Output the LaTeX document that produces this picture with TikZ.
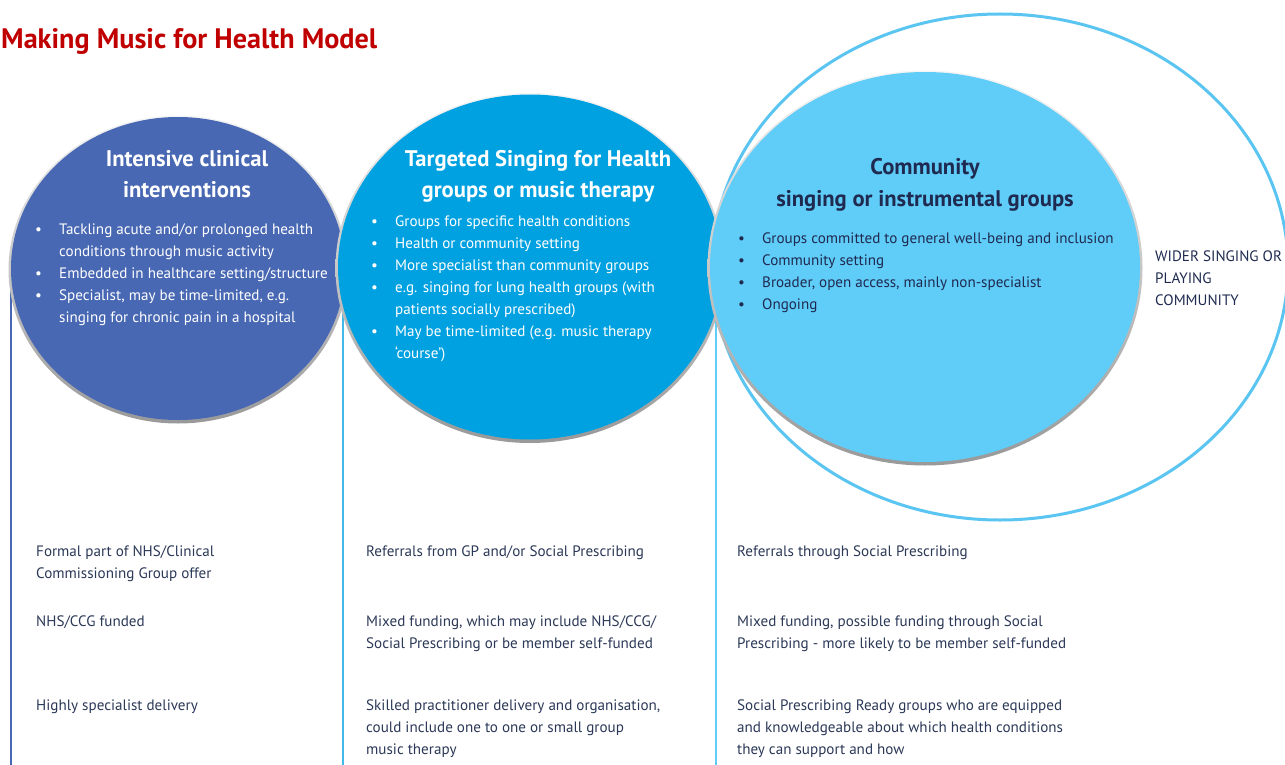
\documentclass[tikz,border=0pt]{standalone}
\usepackage{fontspec}
\setmainfont{PT Sans}
\usetikzlibrary{calc}
\definecolor{cone}{HTML}{4868B3}
\definecolor{ctwo}{HTML}{00A1E0}
\definecolor{cthree}{HTML}{60CCF8}
\definecolor{couter}{HTML}{5BC5F2}
\definecolor{navy}{HTML}{1F2A50}
\definecolor{bodytxt}{HTML}{2B3857}
\definecolor{titlered}{HTML}{C00000}
\newcommand{\mlines}[1]{\begin{tabular}[t]{@{}l@{}}#1\end{tabular}}
\newcommand{\clines}[1]{\begin{tabular}[t]{@{}c@{}}#1\end{tabular}}
\newcommand{\blist}[1]{\begin{tabular}[t]{@{}p{24pt}@{}l@{}}#1\end{tabular}}
\tikzset{
  rim/.style={top color=gray!8, bottom color=gray!80, draw=none},
  colline/.style={line width=2.8pt},
  bodytext/.style={font=\fontsize{15.1}{22}\selectfont, text=bodytxt, anchor=base west, inner sep=0pt},
  bullettext/.style={font=\fontsize{15.1}{22}\selectfont, anchor=base west, inner sep=0pt},
  ctitle/.style={font=\bfseries\fontsize{22.6}{32}\selectfont, anchor=base, inner sep=0pt},
}
\begin{document}
\begin{tikzpicture}[x=1pt,y=-1pt]
\useasboundingbox (0,0) rectangle (1285,765);
% anchor coordinates
\coordinate (c1) at (178,268.5);
\coordinate (c2) at (530,267);
\coordinate (c3) at (925,267);
\coordinate (co) at (1000,267);
\coordinate (l1top) at (11,268);
\coordinate (l1bot) at (11,765);
\coordinate (l2top) at (343,268);
\coordinate (l2bot) at (343,765);
\coordinate (l3top) at (716,268);
\coordinate (l3bot) at (716,765);
% column lines
\draw[colline, cone] (l1top) -- (l1bot);
\draw[colline, ctwo!75] (l2top) -- (l2bot);
\draw[colline, cthree] (l3top) -- (l3bot);
% outer community ellipse
\draw[couter, line width=3pt] (co) ellipse (288 and 253);
% circles with bevel rim
\shade[rim] ($(c1)+(0,1)$) ellipse (169.5 and 154);
\fill[cone] (c1) ellipse (167 and 151.5);
\shade[rim] ($(c2)+(0,1)$) ellipse (194.5 and 175);
\fill[ctwo] (c2) ellipse (192 and 172.5);
\shade[rim] ($(c3)+(0,1)$) ellipse (217.5 and 197.5);
\fill[cthree] (c3) ellipse (215 and 195);
% main title
\node[font=\bfseries\fontsize{28.2}{32}\selectfont, text=titlered, anchor=base west, inner sep=0pt] (title) at (1,49) {Making Music for Health Model};
% circle titles
\node[ctitle, text=white] (t1) at (187,166) {\clines{Intensive clinical\\interventions}};
\node[ctitle, text=white] (t2) at (538,166) {\clines{Targeted Singing for Health\\groups or music therapy}};
\node[ctitle, text=navy] (t3) at (925,175) {\clines{Community\\singing or instrumental groups}};
% bullets
\node[bullettext, text=white] (b1) at (35,234) {\blist{\textbullet & Tackling acute and/or prolonged health\\ & conditions through music activity\\ \textbullet & Embedded in healthcare setting/structure\\ \textbullet & Specialist, may be time-limited, e.g.\\ & singing for chronic pain in a hospital}};
\node[bullettext, text=white] (b2) at (371,226) {\blist{\textbullet & Groups for specific health conditions\\ \textbullet & Health or community setting\\ \textbullet & More specialist than community groups\\ \textbullet & e.g. singing for lung health groups (with\\ & patients socially prescribed)\\ \textbullet & May be time-limited (e.g. music therapy\\ & ‘course’)}};
\node[bullettext, text=navy] (b3) at (738,243) {\blist{\textbullet & Groups committed to general well-being and inclusion\\ \textbullet & Community setting\\ \textbullet & Broader, open access, mainly non-specialist\\ \textbullet & Ongoing}};
\node[bodytext, text=navy] (wider) at (1155,261) {\mlines{WIDER SINGING OR\\PLAYING\\COMMUNITY}};
% bottom rows
\node[bodytext] (r1a) at (36,556) {\mlines{Formal part of NHS/Clinical\\Commissioning Group offer}};
\node[bodytext] (r1b) at (36,626) {\mlines{NHS/CCG funded}};
\node[bodytext] (r1c) at (36,710) {\mlines{Highly specialist delivery}};
\node[bodytext] (r2a) at (366,556) {\mlines{Referrals from GP and/or Social Prescribing}};
\node[bodytext] (r2b) at (366,626) {\mlines{Mixed funding, which may include NHS/CCG/\\Social Prescribing or be member self-funded}};
\node[bodytext] (r2c) at (366,710) {\mlines{Skilled practitioner delivery and organisation,\\could include one to one or small group\\music therapy}};
\node[bodytext] (r3a) at (737,556) {\mlines{Referrals through Social Prescribing}};
\node[bodytext] (r3b) at (737,626) {\mlines{Mixed funding, possible funding through Social\\Prescribing - more likely to be member self-funded}};
\node[bodytext] (r3c) at (737,710) {\mlines{Social Prescribing Ready groups who are equipped\\and knowledgeable about which health conditions\\they can support and how}};
\end{tikzpicture}
\end{document}
